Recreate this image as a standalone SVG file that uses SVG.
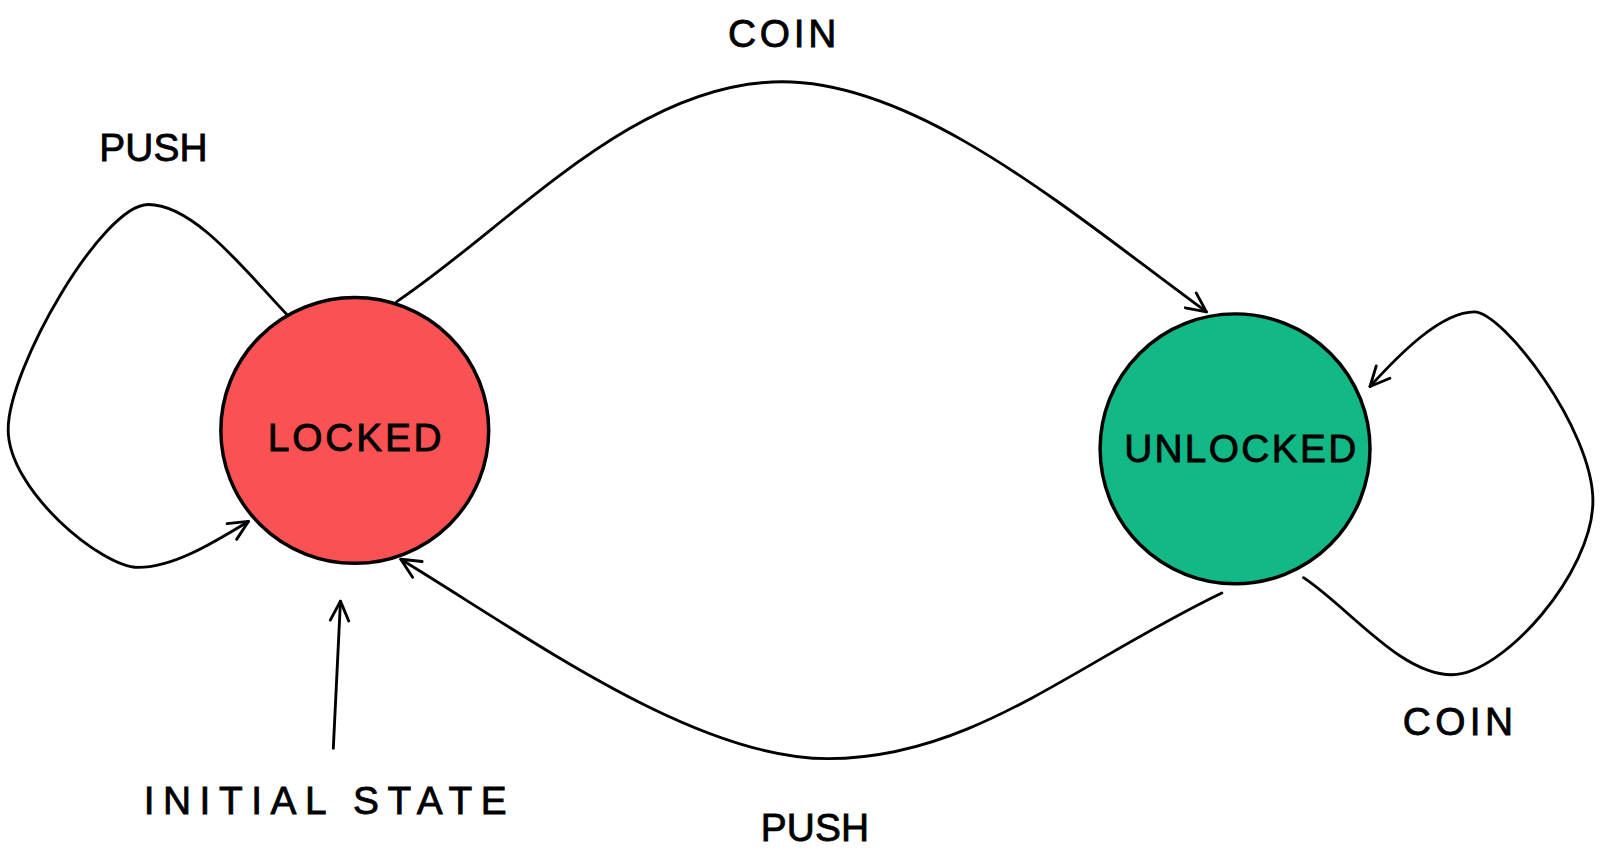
<svg xmlns="http://www.w3.org/2000/svg" width="1600" height="862" viewBox="0 0 1600 862">
<defs>
<style>
.edge{fill:none;stroke:#000;stroke-width:2.8;stroke-linecap:round;stroke-linejoin:round}
.node{stroke:#000;stroke-width:3.4}
.lbl{font-family:"Liberation Sans",Arial,sans-serif;font-size:38px;fill:#000;stroke:#000;stroke-width:0.8;text-anchor:middle}
</style>
<marker id="arr" viewBox="0 0 24 24" refX="22" refY="12" markerWidth="24" markerHeight="24" markerUnits="userSpaceOnUse" orient="auto">
<path d="M3,3 L22,12 L3,21" fill="none" stroke="#000" stroke-width="2.8" stroke-linecap="round" stroke-linejoin="round"/>
</marker>
</defs>
<rect width="1600" height="862" fill="#fff"/>
<g transform="scale(1.0224)">
<g id="connectors">
<path class="edge" d="M388,295 C500,220 620,80 765,80 C900,80 1050,210 1180,305" marker-end="url(#arr)"/>
<path class="edge" d="M1195,580 C1050,650 950,742 810,742 C680,742 520,625 392,547" marker-end="url(#arr)"/>
<path class="edge" d="M281,308 C240,265 190,200 145,200 C100,200 8,360 8,420 C8,480 100,555 135,555 C170,555 210,530 243,510" marker-end="url(#arr)"/>
<path class="edge" d="M1275,565 C1320,595 1370,660 1420,660 C1470,660 1558,560 1558,490 C1558,420 1470,305 1442,305 C1410,305 1370,345 1340,378" marker-end="url(#arr)"/>
<path class="edge" d="M326,732 L333,588" marker-end="url(#arr)"/>
</g>
<g id="locked">
<ellipse class="node" cx="347" cy="421" rx="131" ry="130" fill="#fa5252"/>
<text class="lbl" x="347" y="441" textLength="170" lengthAdjust="spacing">LOCKED</text>
</g>
<g id="unlocked">
<ellipse class="node" cx="1208" cy="439" rx="132" ry="132" fill="#12b886"/>
<text class="lbl" x="1213" y="452" textLength="227" lengthAdjust="spacing">UNLOCKED</text>
</g>
<g id="labels">
<text class="lbl" x="765" y="46" textLength="106" lengthAdjust="spacing">COIN</text>
<text class="lbl" x="150" y="157" textLength="106" lengthAdjust="spacing">PUSH</text>
<text class="lbl" x="318" y="796" textLength="355" lengthAdjust="spacing">INITIAL STATE</text>
<text class="lbl" x="797" y="823" textLength="106" lengthAdjust="spacing">PUSH</text>
<text class="lbl" x="1426" y="719" textLength="108" lengthAdjust="spacing">COIN</text>
</g>
</g>
</svg>
